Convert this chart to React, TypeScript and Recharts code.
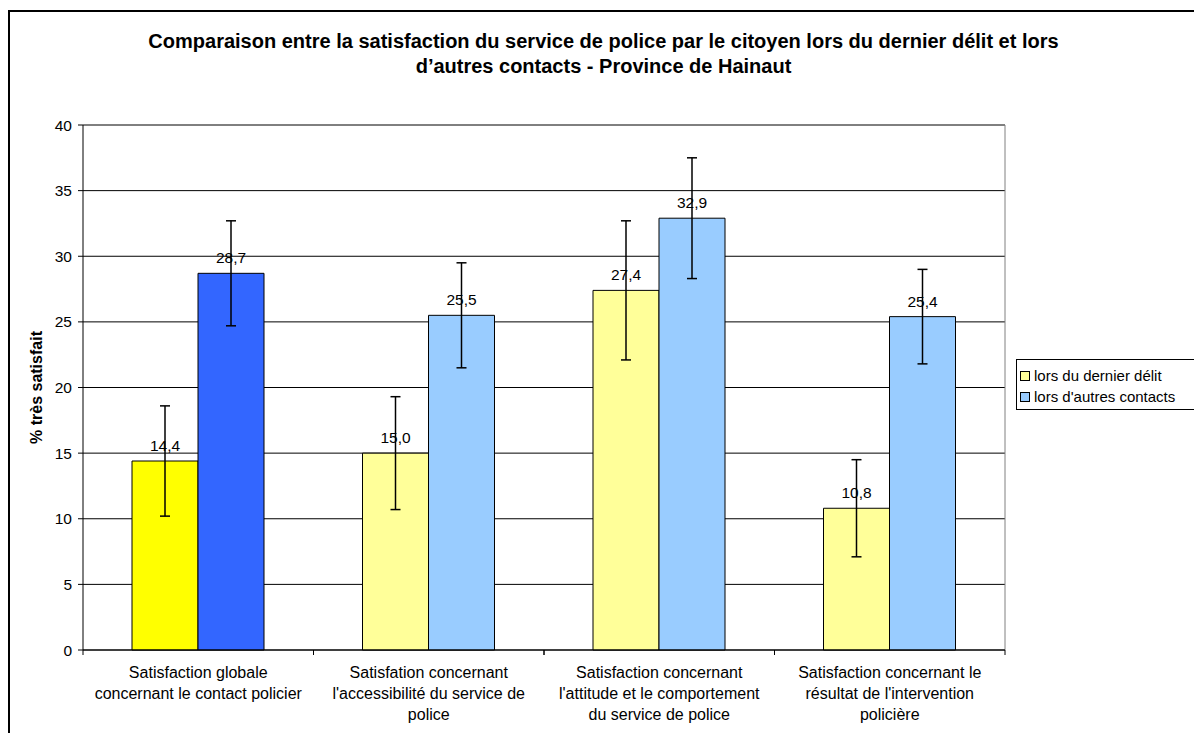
import React from 'react'
import { BarChart, Bar, XAxis, YAxis, CartesianGrid, Legend, LabelList, ErrorBar, Cell } from 'recharts'

const categoryLines = [
  ['Satisfaction globale', 'concernant le contact policier'],
  ['Satisfation concernant', "l'accessibilité du service de", 'police'],
  ['Satisfaction concernant', "l'attitude et le comportement", 'du service de police'],
  ['Satisfaction concernant le', "résultat de l'intervention", 'policière'],
]
const dernierDelit = [14.4, 15.0, 27.4, 10.8]
const autresContacts = [28.7, 25.5, 32.9, 25.4]
const errDernier = [4.2, 4.3, 5.3, 3.7]
const errAutres = [4.0, 4.0, 4.6, 3.6]
const yTicks = [0, 5, 10, 15, 20, 25, 30, 35, 40]

const COLORS_DERNIER = ['#FFFF00', '#FFFF99', '#FFFF99', '#FFFF99']
const COLORS_AUTRES = ['#3366FF', '#99CCFF', '#99CCFF', '#99CCFF']

const FONT = '"Liberation Sans", Arial, sans-serif'

const data = categoryLines.map((lines, i) => ({
  name: lines.join(' '),
  lines,
  dernier: dernierDelit[i],
  autres: autresContacts[i],
  errDernier: errDernier[i],
  errAutres: errAutres[i],
}))

const fmt = (v: any) => Number(v).toFixed(1).replace('.', ',')

// category label plus the tick marks at the category boundaries (Excel style)
function CategoryTick({ x, y, payload, width }: any) {
  const item = data.find((d) => d.name === payload.value)
  const lines = item ? item.lines : [payload.value]
  const half = (width || 922) / data.length / 2
  const axisY = y - 8
  return (
    <g>
      <line x1={x - half} x2={x - half} y1={axisY} y2={axisY + 5} stroke="#000" />
      <line x1={x + half} x2={x + half} y1={axisY} y2={axisY + 5} stroke="#000" />
      <text x={x} y={y} textAnchor="middle" fontSize={16} fontFamily={FONT} fill="#000">
        {lines.map((l: string, i: number) => (
          <tspan key={i} x={x} y={y + 20 + i * 21}>{l}</tspan>
        ))}
      </text>
    </g>
  )
}

function LegendBox() {
  const items = [
    { label: 'lors du dernier délit', color: '#FFFF99' },
    { label: "lors d'autres contacts", color: '#99CCFF' },
  ]
  return (
    <div style={{ border: '1px solid #000', width: 182, height: 51, background: '#fff', fontFamily: FONT, fontSize: 15, boxSizing: 'border-box', paddingTop: 5, paddingLeft: 3 }}>
      {items.map((it) => (
        <div key={it.label} style={{ display: 'flex', alignItems: 'center', height: 21, whiteSpace: 'nowrap' }}>
          <span style={{ display: 'inline-block', width: 8, height: 8, border: '1px solid #000', background: it.color, marginRight: 4 }} />
          {it.label}
        </div>
      ))}
    </div>
  )
}

export default function App() {
  return (
    <div style={{ position: 'fixed', left: 0, top: 0, width: 1194, height: 733, overflow: 'hidden', background: '#fff' }}>
      <div style={{ position: 'absolute', left: 8, top: 10, width: 1300, height: 800, borderLeft: '2px solid #000', borderTop: '2px solid #000' }} />
      <div style={{ position: 'absolute', left: 0, top: 29, width: 1207, textAlign: 'center', fontFamily: FONT, fontWeight: 'bold', fontSize: 20, lineHeight: '25px', color: '#000' }}>
        Comparaison entre la satisfaction du service de police par le citoyen lors du dernier délit et lors
        <br />
        d’autres contacts - Province de Hainaut
      </div>
      <div style={{ position: 'absolute', left: 0, top: 0 }}>
        <BarChart width={1194} height={733} data={data} margin={{ top: 125, right: 189, left: 23, bottom: 13 }} barSize={66} barGap={0}>
          <CartesianGrid horizontal vertical={false} stroke="#000" />
          <CartesianGrid horizontalPoints={[125]} verticalPoints={[1005]} stroke="#808080" fill="none" />
          <XAxis
            dataKey="name"
            height={70}
            tickLine={false}
            axisLine={{ stroke: '#000' }}
            interval={0}
            tick={<CategoryTick />}
          />
          <YAxis
            width={60}
            domain={[0, 40]}
            ticks={yTicks}
            interval={0}
            tickSize={5}
            tickMargin={6}
            axisLine={{ stroke: '#000' }}
            tickLine={{ stroke: '#000' }}
            tick={{ fontSize: 15.5, fontFamily: FONT, fill: '#000' }}
            label={({ viewBox }: any) => (
              <text
                x={viewBox.x + 19}
                y={viewBox.y + viewBox.height / 2}
                transform={`rotate(-90, ${viewBox.x + 19}, ${viewBox.y + viewBox.height / 2})`}
                textAnchor="middle"
                fontSize={16}
                fontWeight="bold"
                fontFamily={FONT}
                fill="#000"
              >
                % très satisfait
              </text>
            )}
          />
          <Legend
            layout="vertical"
            align="center"
            verticalAlign="middle"
            content={<LegendBox />}
            wrapperStyle={{ position: 'absolute', left: 1016, top: 359, width: 182 }}
          />
          <Bar dataKey="dernier" name="lors du dernier délit" stroke="#000" strokeWidth={1} isAnimationActive={false}>
            {data.map((d, i) => (
              <Cell key={`d-${i}`} fill={COLORS_DERNIER[i]} />
            ))}
            <LabelList dataKey="dernier" position="top" offset={10} formatter={fmt} fontSize={15.5} fontFamily={FONT} fill="#000" />
            <ErrorBar dataKey="errDernier" width={5} stroke="#000" strokeWidth={1.5} direction="y" />
          </Bar>
          <Bar dataKey="autres" name="lors d'autres contacts" stroke="#000" strokeWidth={1} isAnimationActive={false}>
            {data.map((d, i) => (
              <Cell key={`a-${i}`} fill={COLORS_AUTRES[i]} />
            ))}
            <LabelList dataKey="autres" position="top" offset={10} formatter={fmt} fontSize={15.5} fontFamily={FONT} fill="#000" />
            <ErrorBar dataKey="errAutres" width={5} stroke="#000" strokeWidth={1.5} direction="y" />
          </Bar>
        </BarChart>
      </div>
    </div>
  )
}
